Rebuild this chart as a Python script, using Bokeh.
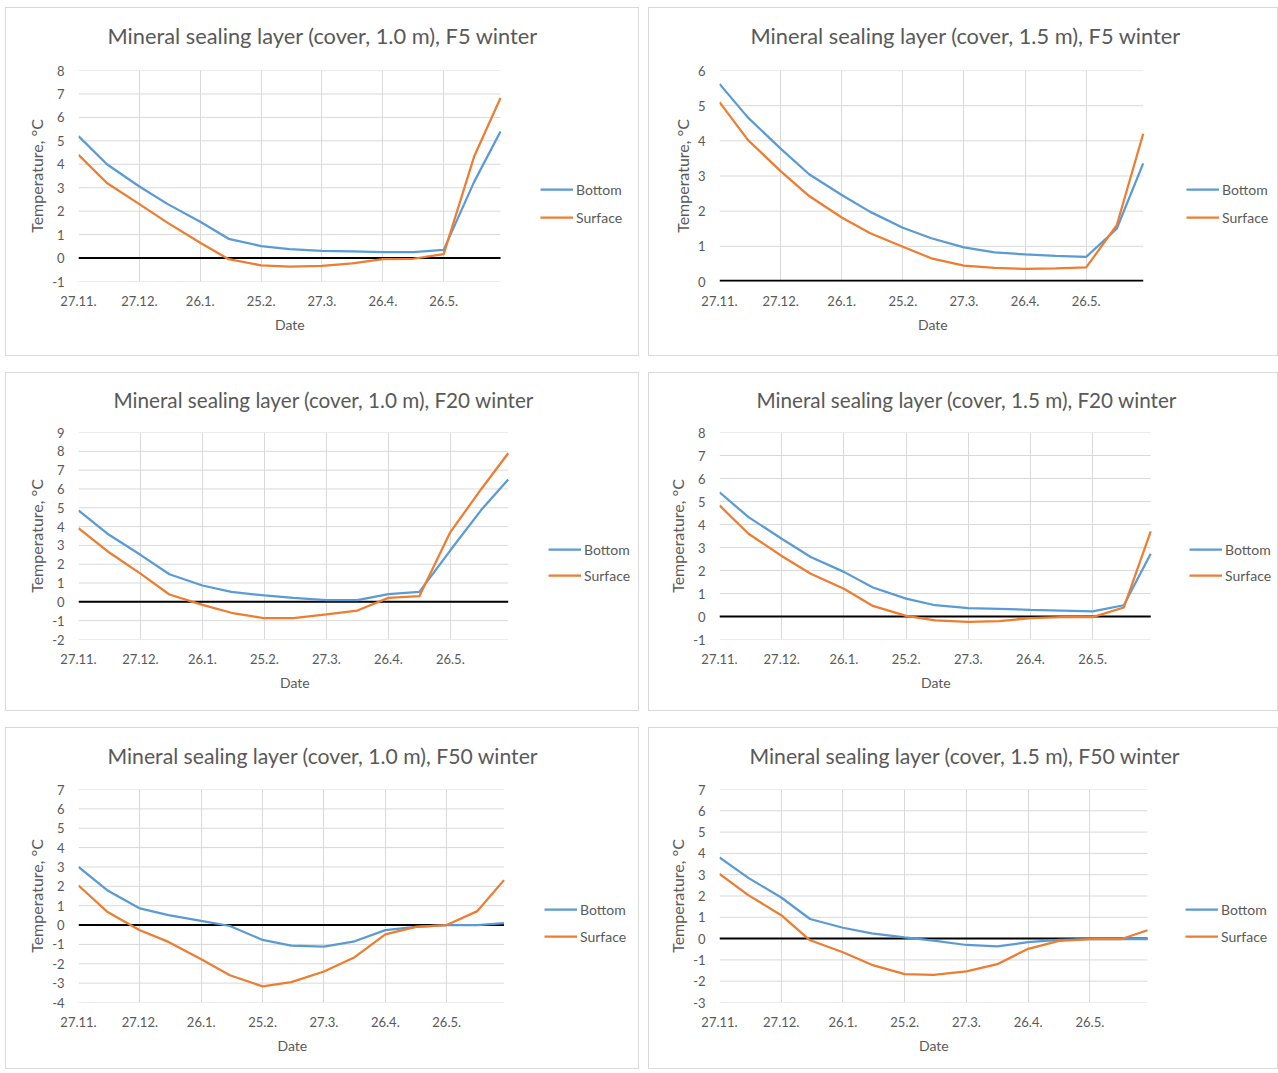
from bokeh.plotting import figure
from bokeh.models import Range1d, FixedTicker, Legend, LegendItem, Title
from bokeh.layouts import gridplot
from bokeh.embed import file_html
from bokeh.resources import INLINE

# ---------------- data ----------------
days = [0, 14, 30, 44, 60, 74, 90, 104, 120, 135, 150, 165, 180, 195, 208]
tick_days = [0, 30, 60, 90, 120, 150, 180]
tick_labels = ["27.11.", "27.12.", "26.1.", "25.2.", "27.3.", "26.4.", "26.5."]
series_names = ["Bottom", "Surface"]
x_title = "Date"
y_title = "Temperature, °C"

titles = [
    "Mineral sealing layer (cover, 1.0 m), F5 winter",
    "Mineral sealing layer (cover, 1.5 m), F5 winter",
    "Mineral sealing layer (cover, 1.0 m), F20 winter",
    "Mineral sealing layer (cover, 1.5 m), F20 winter",
    "Mineral sealing layer (cover, 1.0 m), F50 winter",
    "Mineral sealing layer (cover, 1.5 m), F50 winter",
]
y_limits = [(-1, 8), (0, 6), (-2, 9), (-1, 8), (-4, 7), (-3, 7)]

bottom_10_f5 = [5.2, 4.0, 3.05, 2.3, 1.55, 0.82, 0.51, 0.38, 0.31, 0.28, 0.25, 0.25, 0.35, 3.25, 5.4]
surface_10_f5 = [4.4, 3.2, 2.3, 1.5, 0.65, -0.05, -0.31, -0.37, -0.33, -0.23, -0.05, -0.03, 0.17, 4.33, 6.83]

bottom_15_f5 = [5.62, 4.66, 3.78, 3.05, 2.46, 1.98, 1.53, 1.23, 0.97, 0.83, 0.77, 0.73, 0.70, 1.5, 3.36]
surface_15_f5 = [5.10, 4.02, 3.14, 2.43, 1.82, 1.37, 0.99, 0.66, 0.45, 0.39, 0.36, 0.37, 0.40, 1.6, 4.2]

bottom_10_f20 = [4.86, 3.62, 2.5, 1.47, 0.87, 0.53, 0.34, 0.21, 0.09, 0.09, 0.41, 0.53, 2.74, 4.89, 6.5]
surface_10_f20 = [3.92, 2.69, 1.5, 0.39, -0.16, -0.58, -0.87, -0.87, -0.67, -0.46, 0.21, 0.30, 3.71, 6.0, 7.9]

bottom_15_f20 = [5.4, 4.32, 3.38, 2.59, 1.94, 1.26, 0.78, 0.49, 0.36, 0.33, 0.29, 0.26, 0.22, 0.49, 2.73]
surface_15_f20 = [4.83, 3.6, 2.63, 1.86, 1.21, 0.46, 0.03, -0.17, -0.23, -0.2, -0.07, -0.03, -0.03, 0.39, 3.7]

bottom_10_f50 = [3.0, 1.8, 0.86, 0.51, 0.21, -0.05, -0.77, -1.06, -1.11, -0.84, -0.26, -0.09, 0.0, 0.0, 0.1]
surface_10_f50 = [2.04, 0.69, -0.27, -0.87, -1.77, -2.59, -3.17, -2.95, -2.4, -1.66, -0.48, -0.09, 0.0, 0.72, 2.32]

bottom_15_f50 = [3.81, 2.85, 1.93, 0.92, 0.51, 0.25, 0.06, -0.09, -0.3, -0.36, -0.17, -0.06, -0.02, -0.02, -0.02]
surface_15_f50 = [3.04, 2.04, 1.1, -0.08, -0.64, -1.23, -1.67, -1.7, -1.54, -1.2, -0.48, -0.11, -0.03, -0.03, 0.39]

series = [
    (bottom_10_f5, surface_10_f5),
    (bottom_15_f5, surface_15_f5),
    (bottom_10_f20, surface_10_f20),
    (bottom_15_f20, surface_15_f20),
    (bottom_10_f50, surface_10_f50),
    (bottom_15_f50, surface_15_f50),
]

# ---------------- styling / layout ----------------
FONT = "Lato"
TXT = "#595959"
GRID = "#D9D9D9"
BLUE = "#5B9BD5"
ORANGE = "#ED7D31"
BR = 2  # right border; the frame also hosts the legend area

# (width, height, left border, data-area width, top border, frame height,
#  title offset, title font px, title standoff, title pad,
#  legend x, legend y, legend spacing)
layout = [
    (632, 347, 72, 422, 62, 211, 29, 21.8, 20, 12, 462, 54, 8),
    (628, 347, 67, 426, 62, 211, 31, 21.8, 20, 12, 467, 54, 8),
    (632, 337, 69, 432, 59, 207, 35, 20.7, 18, 12, 470, 54, 6),
    (628, 337, 69, 432, 59, 207, 37, 20.7, 18, 12, 470, 54, 6),
    (632, 340, 70, 427, 61, 213, 29, 21.2, 20, 11, 466, 56, 7),
    (628, 340, 70, 428, 61, 213, 30, 21.2, 20, 11, 466, 56, 7),
]

plots = []
for i in range(6):
    w, h, bl, fw, bt, fh, tx, tfs, tso, tpad, lx, ly, lsp = layout[i]
    bb = h - bt - fh
    fw_ext = w - bl - BR
    x_end = days[-1] * fw_ext / fw
    y0, y1 = y_limits[i]
    p = figure(width=w, height=h, output_backend="svg", toolbar_location=None,
               x_range=Range1d(days[0], x_end), y_range=Range1d(y0, y1),
               min_border_left=bl, min_border_right=BR,
               min_border_top=bt, min_border_bottom=bb)
    p.outline_line_color = None
    p.background_fill_color = "white"
    p.border_fill_color = "white"
    p.styles = {"outline": "1px solid #D9D9D9"}

    p.title.text = titles[i]
    p.title.align = "left"
    p.title.vertical_align = "bottom"
    p.title.offset = tx
    p.title.standoff = tso
    try:
        p.title.padding = dict(left=0, right=0, top=0, bottom=tpad)
    except Exception:
        pass
    p.title.text_font = FONT
    p.title.text_font_size = f"{tfs}px"
    p.title.text_font_style = "normal"
    p.title.text_color = TXT

    p.xaxis.ticker = FixedTicker(ticks=tick_days)
    p.xaxis.major_label_overrides = {d: t for d, t in zip(tick_days, tick_labels)}
    yt = list(range(y0, y1 + 1))
    p.yaxis.ticker = FixedTicker(ticks=yt)
    p.yaxis.major_label_overrides = {v: str(v) for v in yt}
    for ax in (p.xaxis[0], p.yaxis[0]):
        ax.axis_line_color = None
        ax.major_tick_line_color = None
        ax.minor_tick_line_color = None
        ax.major_label_text_font = FONT
        ax.major_label_text_font_size = "13px"
        ax.major_label_text_color = TXT
    p.yaxis.axis_label = y_title
    p.yaxis.axis_label_text_font = FONT
    p.yaxis.axis_label_text_font_style = "normal"
    p.yaxis.axis_label_text_color = TXT
    p.yaxis.axis_label_text_font_size = "16px"
    p.xaxis.major_label_standoff = 8
    p.yaxis.major_label_standoff = 8
    p.yaxis.axis_label_standoff = 3

    # x-axis title, centred under the data area
    p.add_layout(Title(text=x_title, align="left", vertical_align="top",
                       offset=fw / 2 - 14.5, standoff=14,
                       text_font=FONT, text_font_size="14px",
                       text_font_style="normal", text_color=TXT), "below")

    # vertical grid lines at the date ticks
    p.xgrid.grid_line_color = GRID
    p.xgrid.grid_line_width = 1
    # horizontal grid lines limited to the data span
    p.ygrid.visible = False
    p.segment(x0=[days[0]] * len(yt), x1=[days[-1]] * len(yt), y0=yt, y1=yt,
              line_color=GRID, line_width=1)
    # zero line (thicker when it sits on the frame edge, where half is clipped)
    zero_w = 3.5 if y0 == 0 else 2
    p.segment(x0=[days[0]], x1=[days[-1]], y0=[0], y1=[0],
              line_color="black", line_width=zero_w)

    b, s = series[i]
    rb = p.line(days, b, line_color=BLUE, line_width=2.25)
    rs = p.line(days, s, line_color=ORANGE, line_width=2.25)

    leg = Legend(items=[LegendItem(label=series_names[0], renderers=[rb]),
                        LegendItem(label=series_names[1], renderers=[rs])],
                 location=(lx, ly), orientation="vertical",
                 glyph_width=33, glyph_height=20, label_height=20, spacing=lsp,
                 padding=0, margin=0, border_line_color=None,
                 background_fill_alpha=0, label_standoff=3,
                 label_text_font=FONT, label_text_font_size="14px",
                 label_text_color=TXT)
    p.add_layout(leg, "center")
    plots.append(p)

grid = gridplot([[plots[0], plots[1]], [plots[2], plots[3]], [plots[4], plots[5]]],
                toolbar_location=None)
grid.spacing = (18, 11)
grid.margin = (8, 0, 0, 6)

open("out.html", "w").write(file_html(grid, INLINE))
